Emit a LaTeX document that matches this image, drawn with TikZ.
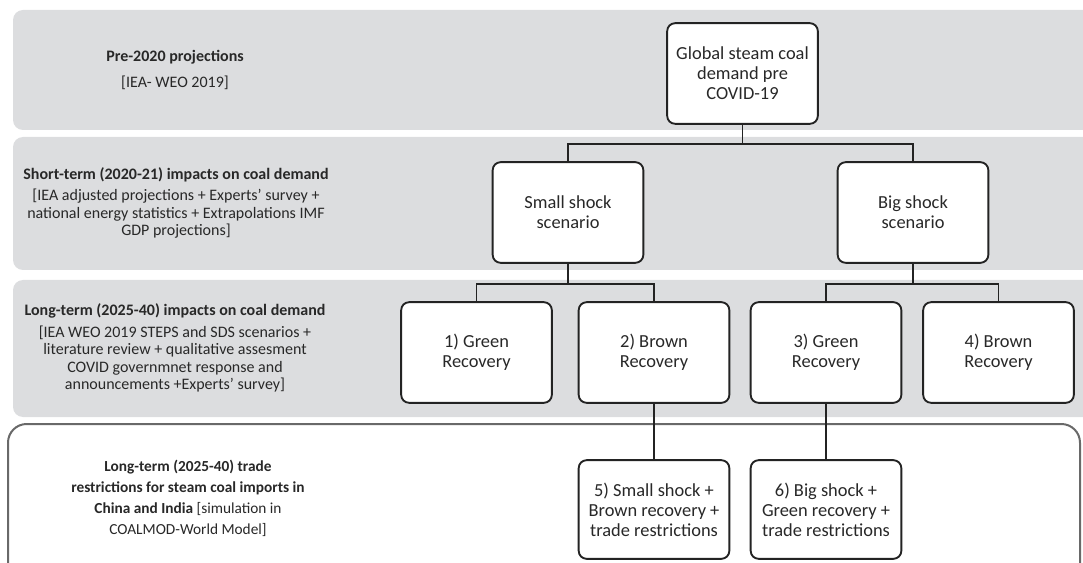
\documentclass[tikz,border=0pt]{standalone}
\usepackage{fontspec}
\setmainfont{Carlito}
\usepackage{tikz}
\definecolor{bandgray}{RGB}{220,221,223}
\definecolor{edgegray}{RGB}{105,105,105}
\definecolor{boxblack}{RGB}{35,35,35}
\definecolor{txtgray}{RGB}{40,40,40}

\begin{document}
\begin{tikzpicture}[x=0.75pt, y=-0.75pt,
    band/.style={fill=bandgray, draw=none, rounded corners=7.5pt},
    lbl/.style={align=center, text=txtgray, font=\fontsize{12}{13.2}\selectfont},
    scen/.style={draw=boxblack, line width=1.4pt, fill=white, rounded corners=6pt,
      minimum width=113pt, minimum height=75.5pt, align=center, text=txtgray,
      font=\fontsize{13.8}{15}\selectfont},
    link/.style={draw=boxblack, line width=1.4pt}]
  \clip (0,0) rectangle (1083,563);

  % Grey bands
  \fill[band] (13,10) rectangle (1110,130);
  \fill[band] (13,137) rectangle (1110,270);
  \fill[band] (13,280) rectangle (1110,417);

  % Lower band with border
  \draw[edgegray, line width=1.5pt, fill=white, rounded corners=14pt] %
    (8,424) rectangle (1080,600);

  % Row labels
  \node[lbl] (pre) at (175,70) {\textbf{Pre-2020 projections}\\[6pt] [IEA- WEO 2019]};
  \node[lbl] (short) at (176,203) {\textbf{Short-term (2020-21) impacts on coal demand}\\[3pt]
    [IEA adjusted projections + Experts' survey +\\
    national energy statistics + Extrapolations IMF\\ GDP projections]};
  \node[lbl] (long) at (175,348) {\textbf{Long-term (2025-40) impacts on coal demand}\\[3pt]
    [IEA WEO 2019 STEPS and SDS scenarios +\\
    literature review + qualitative assesment\\
    COVID governmnet response and\\ announcements +Experts' survey]};
  \node[lbl, font=\fontsize{11.5}{15.8}\selectfont] (trade) at (188,498)
    {\textbf{Long-term (2025-40) trade}\\
    \textbf{restrictions for steam coal imports in}\\
    \textbf{China and India} [simulation in\\ COALMOD-World Model]};

  % Scenario tree
  \node[scen] (glob) at (742.5,73.5) {Global steam coal\\demand pre\\COVID-19};
  \node[scen] (small) at (568,212.5) {Small shock\\scenario};
  \node[scen] (big) at (913,212.5) {Big shock\\scenario};
  \node[scen] (green1) at (476.5,352.5) {1) Green\\Recovery};
  \node[scen] (brown2) at (654,352.5) {2) Brown\\Recovery};
  \node[scen] (green3) at (826,352.5) {3) Green\\Recovery};
  \node[scen] (brown4) at (998.5,352.5) {4) Brown\\Recovery};
  \node[scen, minimum height=74pt] (trade5) at (654,509.5)
    {5) Small shock +\\Brown recovery +\\trade restrictions};
  \node[scen, minimum height=74pt] (trade6) at (826,509.5)
    {6) Big shock +\\Green recovery +\\trade restrictions};

  % Connectors
  \draw[link] (glob.south) -- ++(0,19) -| (small.north);
  \draw[link] (glob.south) -- ++(0,19) -| (big.north);
  \draw[link] (small.south) -- ++(0,20) -| (green1.north);
  \draw[link] (small.south) -- ++(0,20) -| (brown2.north);
  \draw[link] (big.south) -- ++(0,20) -| (green3.north);
  \draw[link] (big.south) -- ++(0,20) -| (brown4.north);
  \draw[link] (brown2) -- (trade5);
  \draw[link] (green3) -- (trade6);
\end{tikzpicture}
\end{document}
